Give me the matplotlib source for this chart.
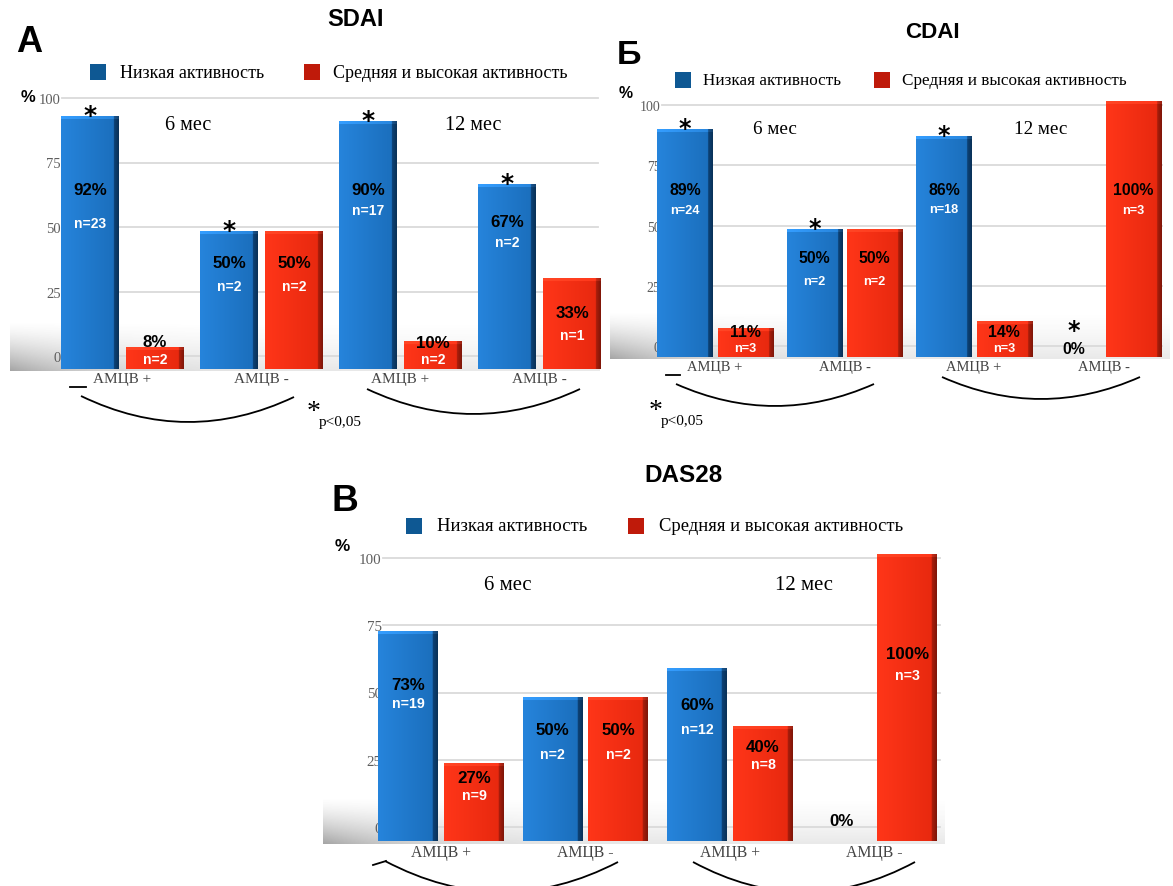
import numpy as np
import matplotlib.pyplot as plt
from matplotlib.patches import Rectangle, PathPatch
from matplotlib.path import Path
from matplotlib.colors import to_rgb

W, H = 1173, 887

groups = ['АМЦВ +', 'АМЦВ -', 'АМЦВ +', 'АМЦВ -']
periods = ['6 мес', '12 мес']
legend_low = 'Низкая активность'
legend_high = 'Средняя и высокая активность'
yticks = [0, 25, 50, 75, 100]

# SDAI, % of patients
sdai_low = [92, 50, 90, 67]
sdai_high = [8, 50, 10, 33]
sdai_n_low = [23, 2, 17, 2]
sdai_n_high = [2, 2, 2, 1]
sdai_star = [True, True, True, True]

# CDAI
cdai_low = [89, 50, 86, 0]
cdai_high = [11, 50, 14, 100]
cdai_n_low = [24, 2, 18, None]
cdai_n_high = [3, 2, 3, 3]
cdai_star = [True, True, True, True]

# DAS28
das_low = [73, 50, 60, 0]
das_high = [27, 50, 40, 100]
das_n_low = [19, 2, 12, None]
das_n_high = [9, 2, 8, 3]
das_star = [False, False, False, False]

BLUE, BLUE_SIDE, BLUE_KEY = '#1b6fbd', '#0b3a68', '#0e5893'
RED, RED_SIDE, RED_KEY = '#e8290f', '#961a0a', '#bf1a0a'
SERIF = 'Liberation Serif'
SANS = 'Liberation Sans'

fig = plt.figure(figsize=(W / 100, H / 100), dpi=100)
fig.patch.set_facecolor('white')


def px_axes(x0, x1, y_bot, y_top):
    return fig.add_axes([x0 / W, 1 - y_bot / H, (x1 - x0) / W, (y_bot - y_top) / H])


def draw_bar(ax, xc, h, w, face, side, px_unit):
    rect = ax.bar(xc, h, w, color=face, linewidth=0, zorder=3, clip_on=False)[0]
    if h <= 0:
        return
    f = np.array(to_rgb(face))
    s = np.array(to_rgb(side))
    light = np.clip(f * 1.12 + 0.03, 0, 1)
    t = np.linspace(0, 1, 80)[:, None]
    cols = np.where(t < 0.92, light + (f - light) * (t / 0.92), s * (1.15 - 0.3 * (t - 0.92) / 0.08))
    ny = max(int(h * px_unit), 2)
    img = np.repeat(cols[None, :, :], ny, axis=0)
    top = min(3, ny)
    img[:top] = np.clip(img[:top] * 1.12 + 0.04, 0, 1)
    im = ax.imshow(img, extent=(xc - w / 2, xc + w / 2, 0, h), aspect='auto',
                   interpolation='bilinear', zorder=3.5, clip_on=False)
    im.set_clip_path(rect)


def floor_shadow(x0, x1, y_top, y_bot):
    fax = px_axes(x0, x1, y_bot, y_top)
    fax.axis('off')
    ny, nx = 80, 400
    yy = np.linspace(0, 1, ny)[:, None]
    xx = np.linspace(0, 1, nx)[None, :]
    vert = yy ** 1.4
    horiz = 0.24 + 0.76 * np.exp(-xx / 0.15)
    rgba = np.zeros((ny, nx, 4))
    rgba[..., :3] = 0.32
    rgba[..., 3] = 0.52 * vert * horiz
    fax.imshow(rgba, extent=(0, 1, 0, 1), aspect='auto', interpolation='bilinear')
    fax.set_xlim(0, 1)
    fax.set_ylim(0, 1)


def draw_panel(p):
    s = p['scale']
    floor_shadow(*p['floor'])

    # back wall with the percent grid
    gx0, gx1, gb, gt = p['grid']
    gax = px_axes(gx0, gx1, gb, gt)
    gax.set_facecolor('none')
    gax.set_xlim(0, 1)
    gax.set_ylim(0, 100)
    gax.set_yticks(yticks)
    gax.set_yticklabels([str(t) for t in yticks], family=SERIF, fontsize=10.5 * s, color='#5e5e5e')
    gax.set_xticks([])
    gax.tick_params(axis='y', length=0, pad=1)
    gax.grid(axis='y', color='#dadada', lw=1.3)
    for gl in gax.get_ygridlines():
        gl.set_clip_on(False)
    for sp in gax.spines.values():
        sp.set_visible(False)

    # bars
    bx0, bx1, bb, bt = p['bars']
    c0, step = p['center0'], p['step']
    bax = px_axes(bx0, bx1, bb, bt)
    bax.set_facecolor('none')
    px_unit = (bb - bt) / 100
    x = np.arange(len(groups))
    w, off = p['width'], p['offset']
    for i in x:
        draw_bar(bax, i - off, p['low'][i], w, BLUE, BLUE_SIDE, px_unit)
        draw_bar(bax, i + off, p['high'][i], w, RED, RED_SIDE, px_unit)

    for i in x:
        for sign, vals, ns, py, ny in ((-1, p['low'], p['n_low'], p['low_pct_y'], p['low_n_y']),
                                       (1, p['high'], p['n_high'], p['high_pct_y'], p['high_n_y'])):
            xb = i + sign * off
            bax.text(xb, py[i], f'{vals[i]}%', ha='center', va='center', family=SANS,
                     weight='bold', fontsize=p['pct_fs'], color='black', zorder=6)
            if ns[i] is not None:
                bax.text(xb, ny[i], f'n={ns[i]}', ha='center', va='center', family=SANS,
                         weight='bold', fontsize=p['n_fs'], color='white', zorder=6)
        if p['star'][i]:
            v = p['low'][i]
            base = v if v > 0 else p['low_pct_y'][i]
            bax.annotate('*', (i - off, base), xytext=(0, 1 if v > 0 else 13),
                         textcoords='offset points', ha='center', va='center',
                         family='DejaVu Sans', weight='bold', fontsize=18 * s, zorder=6)

    bax.set_xlim((bx0 - c0) / step, (bx1 - c0) / step)
    bax.set_ylim(0, 100)
    bax.set_yticks([])
    bax.set_xticks(x)
    bax.set_xticklabels(groups, family=SERIF, fontsize=11 * s, color='#444444')
    bax.tick_params(axis='x', length=0, pad=2)
    for sp in bax.spines.values():
        sp.set_visible(False)


def curve(ax, p0, p2, bottom):
    mid = ((p0[0] + p2[0]) / 2, 2 * bottom - 0.5 * (p0[1] + p2[1]))
    path = Path([p0, mid, p2], [Path.MOVETO, Path.CURVE3, Path.CURVE3])
    ax.add_patch(PathPatch(path, fill=False, lw=1.3, color='black'))


panels = [
    dict(title='SDAI', letter='А', low=sdai_low, high=sdai_high, n_low=sdai_n_low,
         n_high=sdai_n_high, star=sdai_star, scale=1.0, pct_fs=12.2, n_fs=10,
         bars=(58, 600, 370, 95), center0=122.5, step=139, width=0.417, offset=0.234,
         grid=(62, 598, 357, 99), floor=(10, 600, 322, 372),
         low_pct_y=[65.2, 38.9, 65.2, 53.6], low_n_y=[53.1, 30.2, 57.9, 46.2],
         high_pct_y=[9.9, 38.9, 9.8, 20.4], high_n_y=[3.6, 30.2, 3.6, 12.4],
         title_xy=(356, 19), letter_xy=(29, 43), leg_y=73, leg_x=(90, 120, 304, 333),
         pct_xy=(28, 97), period_xy=[(188, 125), (473, 125)],
         arcs=[((81, 397), (294, 398), 423), ((367, 390), (580, 390), 415)],
         dash=((70, 388), (86, 388)), pval=(314, 413)),
    dict(title='CDAI', letter='Б', low=cdai_low, high=cdai_high, n_low=cdai_n_low,
         n_high=cdai_n_high, star=cdai_star, scale=0.95, pct_fs=11.4, n_fs=9.2,
         bars=(650, 1170, 358, 102), center0=715, step=129.5, width=0.425, offset=0.232,
         grid=(662, 1162, 347, 106), floor=(610, 1170, 312, 360),
         low_pct_y=[65.4, 38.7, 65.4, 3.5], low_n_y=[57.5, 29.7, 57.8, None],
         high_pct_y=[9.8, 38.7, 9.8, 65.4], high_n_y=[3.5, 29.7, 3.5, 57.5],
         title_xy=(932, 32), letter_xy=(629, 55), leg_y=81, leg_x=(675, 703, 874, 902),
         pct_xy=(626, 94), period_xy=[(775, 129), (1041, 129)],
         arcs=[((676, 385), (874, 385), 407), ((942, 378), (1140, 378), 400)],
         dash=((666, 376), (680, 376)), pval=(656, 412)),
    dict(title='DAS28', letter='В', low=das_low, high=das_high, n_low=das_n_low,
         n_high=das_n_high, star=das_star, scale=1.03, pct_fs=12.2, n_fs=10.2,
         bars=(372, 945, 842, 555), center0=441, step=144.5, width=0.415, offset=0.228,
         grid=(383, 940, 828, 559), floor=(323, 945, 798, 845),
         low_pct_y=[54.7, 39, 47.4, 7.3], low_n_y=[48.1, 30.3, 39, None],
         high_pct_y=[22, 39, 33.1, 65.5], high_n_y=[16, 30.3, 26.8, 57.8],
         title_xy=(684, 476), letter_xy=(345, 502), leg_y=527, leg_x=(406, 437, 628, 659),
         pct_xy=(342, 547), period_xy=[(508, 586), (804, 586)],
         arcs=[((385, 862), (618, 863), 893), ((693, 863), (915, 863), 893)],
         dash=((373, 866), (386, 862)), pval=None),
]

for p in panels:
    draw_panel(p)

# titles, legends and brackets in pixel coordinates
ov = fig.add_axes([0, 0, 1, 1])
ov.set_xlim(0, W)
ov.set_ylim(H, 0)
ov.axis('off')
ov.patch.set_alpha(0)

for p in panels:
    s = p['scale']
    ov.text(*p['title_xy'], p['title'], ha='center', va='center', family=SANS,
            weight='bold', fontsize=17 * s)
    ov.text(*p['letter_xy'], p['letter'], ha='center', va='center', family=SANS,
            weight='bold', fontsize=26 * s)
    bx, tx, rx, tx2 = p['leg_x']
    ly = p['leg_y']
    ov.add_patch(Rectangle((bx, ly - 8), 16, 16, color=BLUE_KEY, lw=0))
    ov.text(tx, ly, legend_low, ha='left', va='center', family=SERIF, fontsize=13 * s)
    ov.add_patch(Rectangle((rx, ly - 8), 16, 16, color=RED_KEY, lw=0))
    ov.text(tx2, ly, legend_high, ha='left', va='center', family=SERIF, fontsize=13 * s)
    ov.text(*p['pct_xy'], '%', ha='center', va='center', family=SANS, weight='bold',
            fontsize=12 * s)
    for (px, py), label in zip(p['period_xy'], periods):
        ov.text(px, py, label, ha='center', va='center', family=SERIF, fontsize=14.5 * s)
    for p0, p2, bottom in p['arcs']:
        curve(ov, p0, p2, bottom)
    (dx0, dy0), (dx1, dy1) = p['dash']
    ov.plot([dx0, dx1], [dy0, dy1], color='black', lw=1.3)
    if p['pval'] is not None:
        sx, sy = p['pval']
        ov.text(sx, sy, '*', ha='center', va='center', family=SERIF, fontsize=20)
        ov.text(sx + 5, sy + 10, 'p<0,05', ha='left', va='center', family=SERIF, fontsize=11)

fig.savefig('out.png', dpi=100)
